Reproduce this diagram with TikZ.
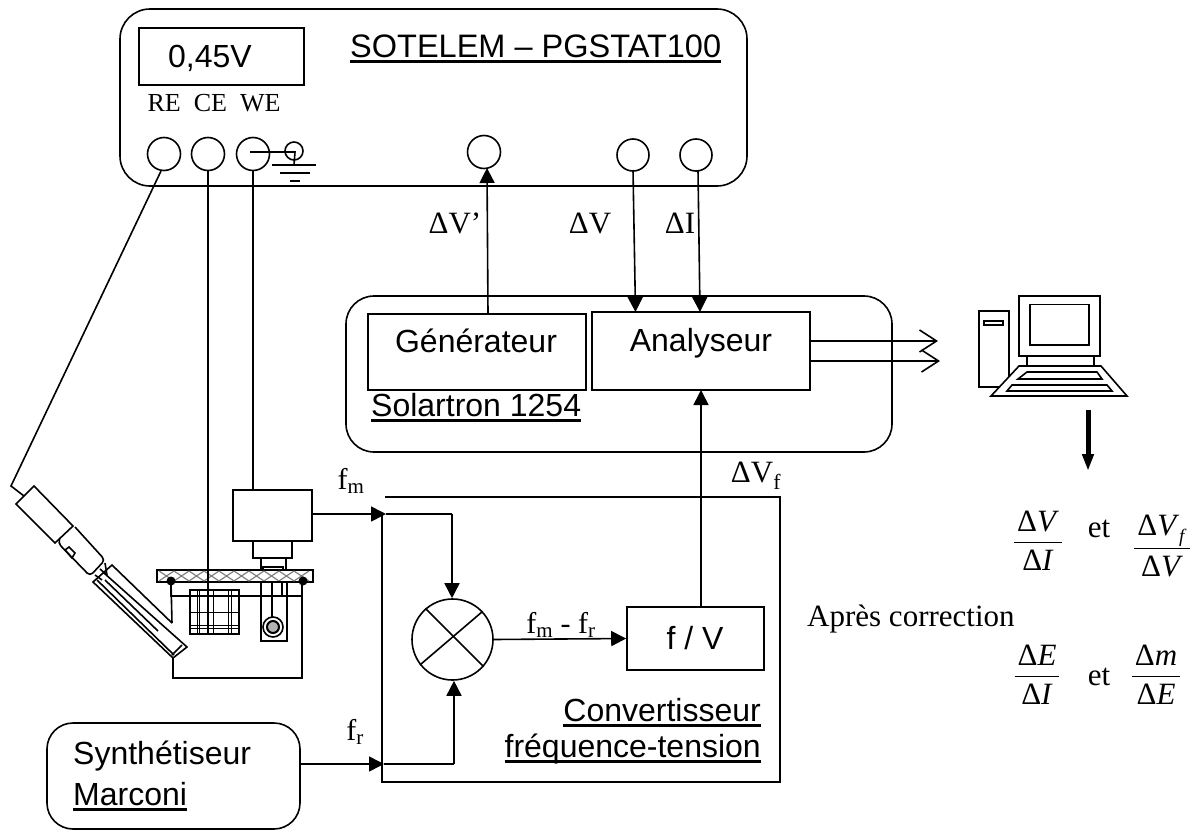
\documentclass[tikz,border=0pt]{standalone}
\usepackage{fontspec}
\setmainfont{Liberation Serif}
\setsansfont{Liberation Sans}
\usetikzlibrary{arrows.meta}
\newcommand{\souligne}[1]{\sbox0{#1}\rlap{\usebox0}\rule[-5.5pt]{\wd0}{2.4pt}}
\newcommand{\taille}[2]{\fontsize{#1}{#2}\selectfont}
\newcommand{\rapport}[2]{$\displaystyle\frac{\hbox{\rule[-6pt]{0pt}{0pt}\kern3pt #1\kern3pt}}{\hbox{\rule{0pt}{27pt}#2}}$}
\newcommand{\D}[1]{Δ\textit{#1}}
\tikzset{
  trait/.style={line width=1.6pt},
  boite/.style={draw,trait,rectangle,inner sep=0pt},
  rond/.style={draw,trait,circle,inner sep=0pt},
  arial/.style={font=\sffamily\taille{32}{39},inner sep=0pt},
  times/.style={font=\rmfamily\taille{31}{36},inner sep=0pt},
  moyen/.style={font=\rmfamily\taille{30}{32},inner sep=0pt},
  petit/.style={font=\rmfamily\taille{26}{30},inner sep=0pt},
  fleche/.style={trait,-{Triangle[length=15pt,width=15pt]}},
  ouverte/.style={trait,-{Straight Barb[length=17pt,width=22pt]}},
}
\begin{document}
\begin{tikzpicture}[x=1pt,y=-1pt]
\useasboundingbox (0,0) rectangle (1200,830);
% potentiostat
\draw[trait,rounded corners=30pt] (120,9) rectangle (747,186);
\node[boite,minimum width=165pt,minimum height=57pt] (ecran) at (221.5,56.5) {};
\node[arial] (tension) at (210,58) {0,45V};
\node[petit] (bornes) at (214,103) {RE~~CE~~WE};
\node[arial,anchor=base west,font=\sffamily\taille{32.5}{39}] (sotelem) at (350,57) {\souligne{SOTELEM – PGSTAT100}};
\node[rond,minimum size=33pt] (RE) at (164,154) {};
\node[rond,minimum size=33pt] (CE) at (208,154) {};
\node[rond,minimum size=33pt] (WE) at (253,154) {};
\node[rond,minimum size=33pt] (Sgen) at (484,152) {};
\node[rond,minimum size=32pt] (SV) at (633,155) {};
\node[rond,minimum size=32pt] (SI) at (696,155) {};
% masse
\node[rond,minimum size=18pt] (masse) at (294,151) {};
\coordinate (piedmasse) at (294,165);
\draw[trait] (250,152) -- (295,152) -- (piedmasse);
\draw[trait] (272,165) -- (316,165);
\draw[trait] (280,173) -- (310,173);
\draw[trait] (290,181) -- (300,181);
% Solartron
\draw[trait,rounded corners=28pt] (346,296) rectangle (892,452);
\node[boite,minimum width=218pt,minimum height=76pt] (gene) at (477,352) {};
\node[boite,minimum width=218pt,minimum height=78pt] (analyseur) at (701,351) {};
\node[arial] (tgene) at (476,341) {Générateur};
\node[arial] (tanal) at (701,343) {Analyseur};
\node[arial,anchor=base west] (solartron) at (371,416) {\souligne{Solartron 1254}};
\coordinate (gH) at (488,314);
\coordinate (gB) at (487,168);
\coordinate (vH) at (633,170);
\coordinate (aV) at (635.5,312);
\coordinate (iH) at (698,170);
\coordinate (aI) at (700,312);
\coordinate (aF) at (701,390);
\draw[fleche] (gH) -- (gB);
\draw[fleche] (vH) -- (aV);
\draw[fleche] (iH) -- (aI);
\node[times] (lgen) at (455,223) {ΔV’};
\node[times] (lV) at (590,223) {ΔV};
\node[times] (lI) at (680,223) {ΔI};
% sorties vers le PC
\coordinate (s1) at (810,341);
\coordinate (s2) at (810,361);
\coordinate (e1) at (938,341);
\coordinate (e2) at (940,361);
\draw[ouverte] (s1) -- (e1);
\draw[ouverte] (s2) -- (e2);
% ordinateur
\draw[trait] (979,311) rectangle (1009,387);
\draw[trait] (984,321) rectangle (1003,325);
\draw[trait] (1019,296) rectangle (1100,356);
\draw[trait] (1030,304.5) rectangle (1089,345);
\draw[trait] (1027,356) -- (1027,366) (1094,356) -- (1094,366);
\draw[trait,fill=white] (991,396) -- (1127,396) -- (1101,366) -- (1019,366) -- cycle;
\draw[trait] (1027,372) -- (1097,372) -- (1102,379) -- (1018,379) -- cycle;
\draw[trait] (1012,385) -- (1107,385) -- (1112,391) -- (1007,391) -- cycle;
\coordinate (pc) at (1088,410);
\coordinate (res) at (1088,471);
\draw[line width=5pt,-{Triangle[length=17pt,width=11pt]}] (pc) -- (res);
% rapports
\node[times] (r1) at (1038,541) {\rapport{\D{V}}{\D{I}}};
\node[times] (et1) at (1099,529) {et};
\node[times] (r2) at (1162,546) {\rapport{\D{V}\raisebox{-7pt}{\taille{19}{19}\textit{f}}}{\D{V}}};
\node[times,anchor=west] (apres) at (807,619) {Après correction};
\node[times] (r3) at (1037,675) {\rapport{\D{E}}{\D{I}}};
\node[times] (et2) at (1099,677) {et};
\node[times] (r4) at (1156,675) {\rapport{\D{m}}{\D{E}}};
% cellule
\node[boite,minimum width=79pt,minimum height=51pt] (tete) at (272.5,515.5) {};
\node[boite,minimum width=39pt,minimum height=17pt] (cou) at (272.5,549.5) {};
\draw[trait] (261,558) rectangle (286,570);
\draw[trait] (263,567) rectangle (283,570);
\draw[trait] (157,570) rectangle (313,582);
\foreach \x in {159,174,...,295}{
  \draw[gray,line width=1.2pt] (\x,571) -- (\x+15,581) (\x,581) -- (\x+15,571);
}
\fill (171,581) circle (4.5) (303,581) circle (4.5);
\coordinate (cg) at (171,581);
\coordinate (cd) at (303,581);
\draw[trait] (190,590) rectangle (239,634);
\foreach \x in {197,199.5,213,228,231}{\draw[line width=1pt] (\x,590) -- (\x,634);}
\foreach \y in {596,612,625,628}{\draw[line width=1pt] (190,\y) -- (239,\y);}
\draw[trait] (261,582) rectangle (287,641);
\draw[trait] (272,582) -- (272,617) (282,582) -- (282,596);
\node[rond,minimum size=20pt] (disque) at (273,627) {};
\node[rond,line width=2pt,fill=gray!60,minimum size=12pt] (centre) at (273,627) {};
\draw[trait] (cg) -- (171,596) -- (cd |- 0,596);
\draw[trait] (cg) -- (172,623);
\draw[trait] (302,581) -- (302,678) -- (173,678) -- (173,658);
% electrode de reference
\coordinate (coude) at (11,486);
\draw[trait] (RE.260) -- (coude) -- (24,496);
\draw[trait] (34,486) -- (73,526) -- (55,543) -- (16,504) -- cycle;
\draw[trait,rounded corners=4pt] (75,527) -- (105,560) -- (90,576) -- (58,543) -- (60,538);
\draw[trait] (65,550) -- (69,547) -- (75,553) -- (72,558) -- cycle;
\draw[trait] (105,563) -- (107,575) (100,569) -- (107,575) (95,575) -- (102,580);
\draw[trait] (172,623) -- (112,565) -- (93,582) -- (173,658) -- (187,647) -- (104,573);
\draw[trait] (97,580) -- (174,655);
\draw[trait] (105,580) -- (158,631);
\draw[trait] (172,655) -- (182,645);
% fils
\coordinate (grille) at (208,633);
\draw[trait] (CE.south) -- (grille);
\draw[trait] (WE.south) -- (WE.south |- tete.north);
% convertisseur
\coordinate (hg) at (385,497);
\coordinate (hd) at (780,497);
\coordinate (bd) at (780,782);
\coordinate (bg) at (382,782);
\coordinate (cm) at (382,513);
\draw[trait] (hg) -- (hd) -- (bd) -- (bg) -- (cm);
\node[rond,minimum size=81pt] (mixeur) at (452.5,639.5) {};
\draw[trait] (mixeur.131) -- (mixeur.-41);
\draw[trait] (mixeur.218) -- (mixeur.43);
\node[boite,minimum width=137pt,minimum height=63pt] (fsurv) at (695.5,638.5) {};
\node[arial] (tfv) at (695,638) {f / V};
\node[arial,anchor=base east] (conv) at (761,721) {\souligne{Convertisseur}};
\node[arial,anchor=base east] (freq) at (761,757) {\souligne{fréquence-tension}};
\draw[fleche] (mixeur.east) -- (fsurv.west);
\node[moyen] (lfmfr) at (561,625) {f\textsubscript{m} - f\textsubscript{r}};
\draw[fleche] (fsurv.north -| aF) -- (aF);
\node[times] (lVf) at (756,476) {ΔV\textsubscript{f}};
% frequences
\coordinate (fm) at (312,514);
\coordinate (nm) at (386,514);
\coordinate (km) at (452,514);
\draw[fleche] (fm) -- (nm);
\draw[fleche] (km |- nm) -- (km |- mixeur.north);
\draw[trait] (nm) -- (km);
\node[moyen] (lfm) at (351,481) {f\textsubscript{m}};
\node[draw,trait,rounded corners=26pt,minimum width=253pt,minimum height=106pt,inner sep=0pt] (synth) at (173.5,776) {};
\node[arial,anchor=base west] (tsynth) at (73,764) {Synthétiseur};
\node[arial,anchor=base west] (marconi) at (73,805) {\souligne{Marconi}};
\coordinate (nr) at (384,764);
\coordinate (kr) at (454,764);
\draw[fleche] (synth.east |- nr) -- (nr);
\draw[trait] (nr) -- (kr);
\draw[fleche] (kr) -- (kr |- mixeur.south);
\node[moyen] (lfr) at (355,732) {f\textsubscript{r}};
\end{tikzpicture}
\end{document}
